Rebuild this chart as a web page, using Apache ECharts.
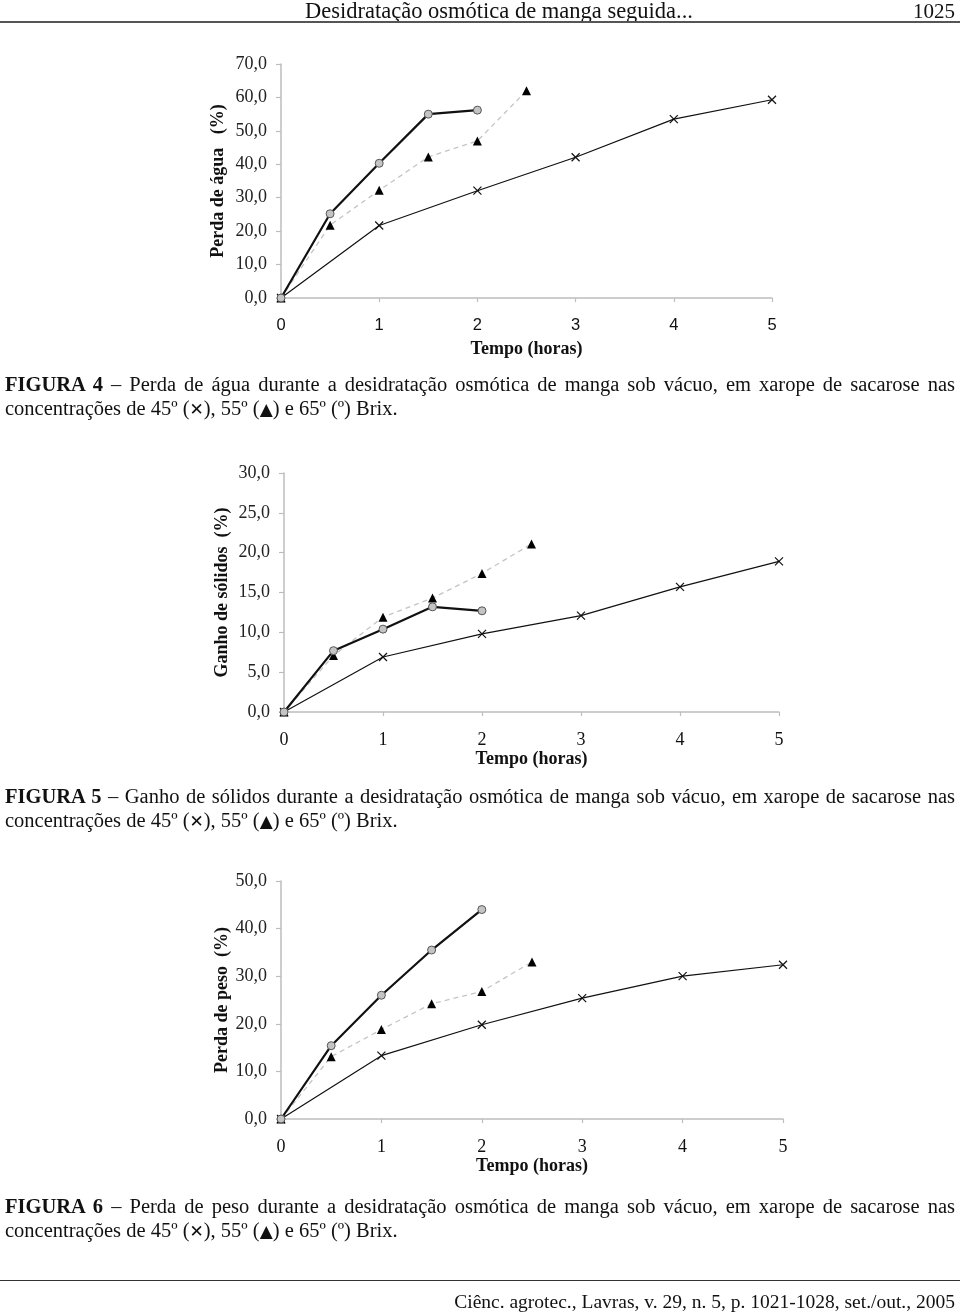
<!DOCTYPE html>
<html><head><meta charset="utf-8">
<script src="https://cdn.jsdelivr.net/npm/echarts@6/dist/echarts.min.js"></script>
<style>
html,body{margin:0;padding:0;background:#fff;}
#wrap{position:relative;width:960px;height:1313px;overflow:hidden;}
#chart{position:absolute;left:0;top:0;width:960px;height:1313px;}
.t{position:absolute;font-family:"Liberation Serif","Times New Roman",serif;color:#111;white-space:nowrap;}
.cap{left:5px;width:950px;font-size:20.5px;line-height:24px;text-align:justify;text-align-last:justify;}
.cap2{left:5px;font-size:20.5px;line-height:24px;}
.sym{font-family:"DejaVu Sans",sans-serif;font-size:17px;}
</style></head>
<body><div id="wrap">
<div id="chart"></div>
<div class="t" style="left:305px;top:-1px;font-size:22.5px;line-height:24px;">Desidratação osmótica de manga seguida...</div>
<div class="t" style="right:5px;top:-1px;font-size:21px;line-height:24px;">1025</div>
<div style="position:absolute;left:0;top:21px;width:960px;height:2px;background:#555;"></div>

<div class="t cap" style="top:372px;"><b>FIGURA 4</b> – Perda de água durante a desidratação osmótica de manga sob vácuo, em xarope de sacarose nas</div>
<div class="t cap2" style="top:396px;">concentrações de 45º (<span class="sym">✕</span>), 55º (<span class="sym">▲</span>) e 65º (º) Brix.</div>

<div class="t cap" style="top:784px;"><b>FIGURA 5</b> – Ganho de sólidos durante a desidratação osmótica de manga sob vácuo, em xarope de sacarose nas</div>
<div class="t cap2" style="top:808px;">concentrações de 45º (<span class="sym">✕</span>), 55º (<span class="sym">▲</span>) e 65º (º) Brix.</div>

<div class="t cap" style="top:1194px;"><b>FIGURA 6</b> – Perda de peso durante a desidratação osmótica de manga sob vácuo, em xarope de sacarose nas</div>
<div class="t cap2" style="top:1218px;">concentrações de 45º (<span class="sym">✕</span>), 55º (<span class="sym">▲</span>) e 65º (º) Brix.</div>

<div style="position:absolute;left:0;top:1280px;width:960px;height:1px;background:#333;"></div>
<div class="t" style="right:5px;top:1290px;font-size:19.5px;line-height:24px;">Ciênc. agrotec., Lavras, v. 29, n. 5, p. 1021-1028, set./out., 2005</div>
</div>
<script>
// ---- data ----
const hours45 = [0, 1, 2, 3, 4, 5];
const hours55 = [0, 0.5, 1, 1.5, 2, 2.5];
const hours65 = [0, 0.5, 1, 1.5, 2];

const agua45 = [0, 21.7, 32.1, 42.1, 53.5, 59.3];
const agua55 = [0, 21.8, 32.2, 42.2, 47.0, 62.0];
const agua65 = [0, 25.2, 40.3, 55.0, 56.2];

const solidos45 = [0, 6.9, 9.8, 12.1, 15.7, 18.9];
const solidos55 = [0, 7.1, 11.9, 14.3, 17.4, 21.1];
const solidos65 = [0, 7.7, 10.4, 13.2, 12.7];

const peso45 = [0, 13.3, 19.8, 25.4, 30.0, 32.4];
const peso55 = [0, 13.1, 18.8, 24.2, 26.8, 33.0];
const peso65 = [0, 15.4, 26.0, 35.5, 44.0];

const yTitles = ['Perda de água   (%)', 'Ganho de sólidos  (%)', 'Perda de peso  (%)'];
const xTitle = 'Tempo (horas)';
const yMax = [70, 30, 50];
const yStep = [10, 5, 10];

// ---- layout ----
const grids = [
  {left: 281, top: 64, width: 491, height: 234},
  {left: 284, top: 473, width: 495, height: 239},
  {left: 281, top: 881, width: 502, height: 238}
];
const nameGaps = [54, 53, 50];
const serif = '"Liberation Serif","Times New Roman",serif';
const sans = '"Liberation Sans",Arial,sans-serif';
const axisCol = '#bdbdbd';

const zip = (xs, ys) => xs.map((x, i) => [x, ys[i]]);
const sets = [
  [agua45, agua55, agua65],
  [solidos45, solidos55, solidos65],
  [peso45, peso55, peso65]
];

const xAxes = [], yAxes = [], series = [];
grids.forEach((g, i) => {
  xAxes.push({
    type: 'value', gridIndex: i, min: 0, max: 5, interval: 1,
    name: xTitle, nameLocation: 'middle', nameGap: i === 0 ? 42 : 38,
    nameMoveOverlap: false,
    nameTextStyle: {fontFamily: serif, fontWeight: 'bold', fontSize: 18, color: '#111'},
    axisLine: {show: true, onZero: false, lineStyle: {color: axisCol, width: 1.5}},
    axisTick: {show: true, length: 4, lineStyle: {color: axisCol, width: 1.2}},
    axisLabel: {margin: 19, fontFamily: i === 0 ? sans : serif, fontSize: i === 0 ? 16.5 : 18, color: '#111'},
    splitLine: {show: false}
  });
  yAxes.push({
    type: 'value', gridIndex: i, min: 0, max: yMax[i], interval: yStep[i],
    name: yTitles[i], nameLocation: 'middle', nameGap: nameGaps[i], nameRotate: 90,
    nameMoveOverlap: false,
    nameTextStyle: {fontFamily: serif, fontWeight: 'bold', fontSize: 18, color: '#111'},
    axisLine: {show: true, lineStyle: {color: axisCol, width: 1.5}},
    axisTick: {show: true, length: 5, lineStyle: {color: axisCol, width: 1.2}},
    axisLabel: {margin: 14, fontFamily: serif, fontSize: 18, color: '#222',
      formatter: v => v.toFixed(1).replace('.', ',')},
    splitLine: {show: false}
  });
  const [s45, s55, s65] = sets[i];
  series.push({
    type: 'line', xAxisIndex: i, yAxisIndex: i, data: zip(hours45, s45), z: 2,
    lineStyle: {color: '#111', width: 1.2},
    symbol: 'path://M0,0L10,10M10,0L0,10', symbolSize: 8, showSymbol: true,
    itemStyle: {color: 'rgba(0,0,0,0)', borderColor: '#111', borderWidth: 1.2},
    animation: false, silent: true
  });
  series.push({
    type: 'line', xAxisIndex: i, yAxisIndex: i, data: zip(hours55, s55), z: 3,
    lineStyle: {color: '#c4c4c4', width: 1.3, type: [5, 4]},
    symbol: 'triangle', symbolSize: 9,
    itemStyle: {color: '#000', borderWidth: 0},
    animation: false, silent: true
  });
  series.push({
    type: 'line', xAxisIndex: i, yAxisIndex: i, data: zip(hours65, s65), z: 4,
    lineStyle: {color: '#111', width: 2.2},
    symbol: 'circle', symbolSize: 8,
    itemStyle: {color: '#c4c4c4', borderColor: '#555', borderWidth: 1},
    animation: false, silent: true
  });
});

const chart = echarts.init(document.getElementById('chart'), null, {renderer: 'canvas'});
chart.setOption({
  backgroundColor: 'transparent',
  animation: false,
  grid: grids,
  xAxis: xAxes,
  yAxis: yAxes,
  series: series
});
</script>
</body></html>
